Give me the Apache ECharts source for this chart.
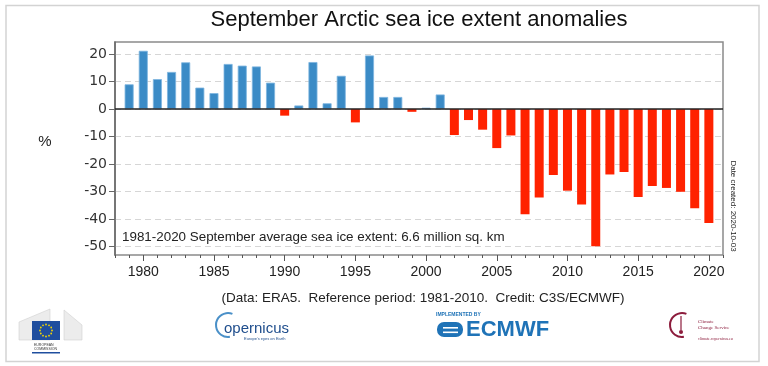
<!DOCTYPE html>
<html><head><meta charset="utf-8">
<script src="https://cdn.jsdelivr.net/npm/echarts@6/dist/echarts.min.js"></script>
<style>html,body{margin:0;padding:0;background:#fff}#c{width:768px;height:366px}</style>
</head><body><div id="c"></div>
<script>
const years = [1979,1980,1981,1982,1983,1984,1985,1986,1987,1988,1989,1990,1991,1992,1993,1994,1995,1996,1997,1998,1999,2000,2001,2002,2003,2004,2005,2006,2007,2008,2009,2010,2011,2012,2013,2014,2015,2016,2017,2018,2019,2020];
const anomalies = [9.0,21.2,10.9,13.5,17.0,7.8,5.8,16.4,15.8,15.5,9.6,-2.4,1.3,17.1,2.1,12.1,-4.85,19.5,4.4,4.4,-1.0,0.5,5.3,-9.45,-4.0,-7.5,-14.2,-9.6,-38.3,-32.2,-24.0,-29.7,-34.7,-49.9,-23.8,-22.9,-32.0,-28.0,-28.7,-30.1,-36.1,-41.5];
const xTickLabels = [1980,1985,1990,1995,2000,2005,2010,2015,2020];
const yTickLabels = [-50,-40,-30,-20,-10,0,10,20];
const titleText = 'September Arctic sea ice extent anomalies';
const unitText = '%';
const noteText = '1981-2020 September average sea ice extent: 6.6 million sq. km';
const creditText = '(Data: ERA5.  Reference period: 1981-2010.  Credit: C3S/ECMWF)';
const dateText = 'Date created: 2020-10-03';

const BLUE = '#3b8bc6', BLUE_EDGE = '#7db5df', RED = '#ff2200';

const barData = years.map((y, i) => ({
  value: [y, anomalies[i]],
  itemStyle: anomalies[i] >= 0
    ? {color: BLUE, borderColor: BLUE_EDGE, borderWidth: 0.8}
    : {color: RED, borderWidth: 0}
}));

const stars = [];
for (let k = 0; k < 12; k++) {
  const a = k * Math.PI / 6;
  stars.push({type:'circle', silent:true, shape:{cx:46 + 6*Math.cos(a), cy:330.5 + 6*Math.sin(a), r:0.9}, style:{fill:'#f5d800'}});
}

const chart = echarts.init(document.getElementById('c'), null, {renderer:'canvas'});
chart.setOption({
  animation: false,
  backgroundColor: '#fff',
  grid: [{left:115, right:45, top:42, bottom:111, show:true, borderColor:'#8a8a8a', borderWidth:1.5, containLabel:false}],
  xAxis: [
    {type:'value', min:1978, max:2021, position:'bottom',
     axisLine:{show:false, onZero:false}, splitLine:{show:false},
     axisTick:{show:true, length:6, customValues:xTickLabels, lineStyle:{color:'#555', width:1}},
     axisLabel:{customValues:xTickLabels, formatter: v => String(v), fontFamily:'Liberation Sans', fontSize:14, color:'#222', margin:10}},
    {type:'value', min:1978, max:2021, interval:1, position:'bottom',
     axisLine:{show:false, onZero:false}, splitLine:{show:false}, axisLabel:{show:false},
     axisTick:{show:true, length:3, lineStyle:{color:'#555', width:1}}}
  ],
  yAxis: [
    {type:'value', min:-53.1, max:24.4,
     axisLine:{show:true, onZero:false, lineStyle:{color:'#666', width:1.5}},
     axisTick:{show:true, length:6, customValues:yTickLabels, lineStyle:{color:'#666', width:1}},
     axisLabel:{customValues:yTickLabels, formatter: v => String(v), fontFamily:'DejaVu Sans', fontSize:14, color:'#333', margin:8},
     splitLine:{show:true, lineStyle:{type:[6,4], color:'#d6d6d6', width:1}}}
  ],
  series: [{
    type:'bar', xAxisIndex:0, yAxisIndex:0, data: barData, barWidth:9,
    markLine:{silent:true, symbol:'none', label:{show:false}, animation:false,
      lineStyle:{color:'#222', width:1.5, type:'solid'}, data:[{yAxis:0}]}
  }],
  graphic: [
    {type:'rect', silent:true, shape:{x:6, y:5.5, width:753, height:356}, style:{fill:'none', stroke:'#d3d3d3', lineWidth:1.5}},
    {type:'text', silent:true, x:419, y:20, style:{text:titleText, font:'22px "Liberation Sans"', fill:'#111', align:'center', verticalAlign:'middle', textAlign:'center', textVerticalAlign:'middle'}},
    {type:'text', silent:true, x:45, y:142, style:{text:unitText, font:'15px "Liberation Sans"', fill:'#222', align:'center', verticalAlign:'middle', textAlign:'center', textVerticalAlign:'middle'}},
    {type:'text', silent:true, x:122, y:237, style:{text:noteText, font:'13.4px "Liberation Sans"', fill:'#222', align:'left', verticalAlign:'middle', textAlign:'left', textVerticalAlign:'middle'}},
    {type:'text', silent:true, x:733, y:206, rotation:-Math.PI/2, style:{text:dateText, font:'8px "Liberation Sans"', fill:'#222', align:'center', verticalAlign:'middle', textAlign:'center', textVerticalAlign:'middle'}},
    {type:'text', silent:true, x:423, y:298, style:{text:creditText, font:'13.5px "Liberation Sans"', fill:'#222', align:'center', verticalAlign:'middle', textAlign:'center', textVerticalAlign:'middle'}},
    // EU logo
    {type:'polygon', silent:true, shape:{points:[[19,322],[50,309],[50,340],[19,340]]}, style:{fill:'#ececec', stroke:'#d0d0d0', lineWidth:0.6}},
    {type:'polygon', silent:true, shape:{points:[[64,310],[82,325],[82,340],[64,340]]}, style:{fill:'#ececec', stroke:'#d0d0d0', lineWidth:0.6}},
    {type:'rect', silent:true, shape:{x:32, y:321, width:28, height:19}, style:{fill:'#1f4e9e'}},
    ...stars,
    {type:'text', silent:true, x:34, y:345, style:{text:'EUROPEAN', font:'3.5px "Liberation Sans"', fill:'#333', align:'left', verticalAlign:'middle'}},
    {type:'text', silent:true, x:34, y:349, style:{text:'COMMISSION', font:'3.5px "Liberation Sans"', fill:'#333', align:'left', verticalAlign:'middle'}},
    {type:'rect', silent:true, shape:{x:32, y:352, width:28, height:1.5}, style:{fill:'#1f4e9e'}},
    // Copernicus
    {type:'arc', silent:true, shape:{cx:228, cy:325, r:12, startAngle:Math.PI*0.45, endAngle:Math.PI*1.62, clockwise:true}, style:{stroke:'#4a90c8', lineWidth:2, fill:'none'}},
    {type:'text', silent:true, x:224, y:329, style:{text:'opernicus', font:'15px "Liberation Sans"', fill:'#1e4d8c', align:'left', verticalAlign:'middle'}},
    {type:'text', silent:true, x:244, y:339, style:{text:"Europe's eyes on Earth", font:'4px "Liberation Sans"', fill:'#1e4d8c', align:'left', verticalAlign:'middle'}},
    // ECMWF
    {type:'text', silent:true, x:436, y:315, style:{text:'IMPLEMENTED BY', font:'bold 5px "Liberation Sans"', fill:'#1f73b7', align:'left', verticalAlign:'middle'}},
    {type:'rect', silent:true, shape:{x:437, y:322, width:26, height:15, r:7}, style:{fill:'#1f73b7'}},
    {type:'rect', silent:true, shape:{x:443, y:327, width:15, height:1.6}, style:{fill:'#fff'}},
    {type:'rect', silent:true, shape:{x:443, y:331.5, width:15, height:1.6}, style:{fill:'#fff'}},
    {type:'text', silent:true, x:466, y:330, style:{text:'ECMWF', font:'bold 22px "Liberation Sans"', fill:'#1f73b7', align:'left', verticalAlign:'middle'}},
    // Climate change service
    {type:'arc', silent:true, shape:{cx:682, cy:325, r:12, startAngle:Math.PI*0.45, endAngle:Math.PI*1.62, clockwise:true}, style:{stroke:'#8c1c3c', lineWidth:2, fill:'none'}},
    {type:'line', silent:true, shape:{x1:681, y1:316, x2:681, y2:330}, style:{stroke:'#8c1c3c', lineWidth:1.2}},
    {type:'circle', silent:true, shape:{cx:681, cy:332, r:2}, style:{fill:'#8c1c3c'}},
    {type:'text', silent:true, x:698, y:322, style:{text:'Climate', font:'5px "Liberation Serif"', fill:'#8c1c3c', align:'left', verticalAlign:'middle'}},
    {type:'text', silent:true, x:698, y:328, style:{text:'Change Service', font:'5px "Liberation Serif"', fill:'#8c1c3c', align:'left', verticalAlign:'middle'}},
    {type:'text', silent:true, x:698, y:339, style:{text:'climate.copernicus.eu', font:'4px "Liberation Serif"', fill:'#8c1c3c', align:'left', verticalAlign:'middle'}}
  ]
});
</script>
</body></html>
